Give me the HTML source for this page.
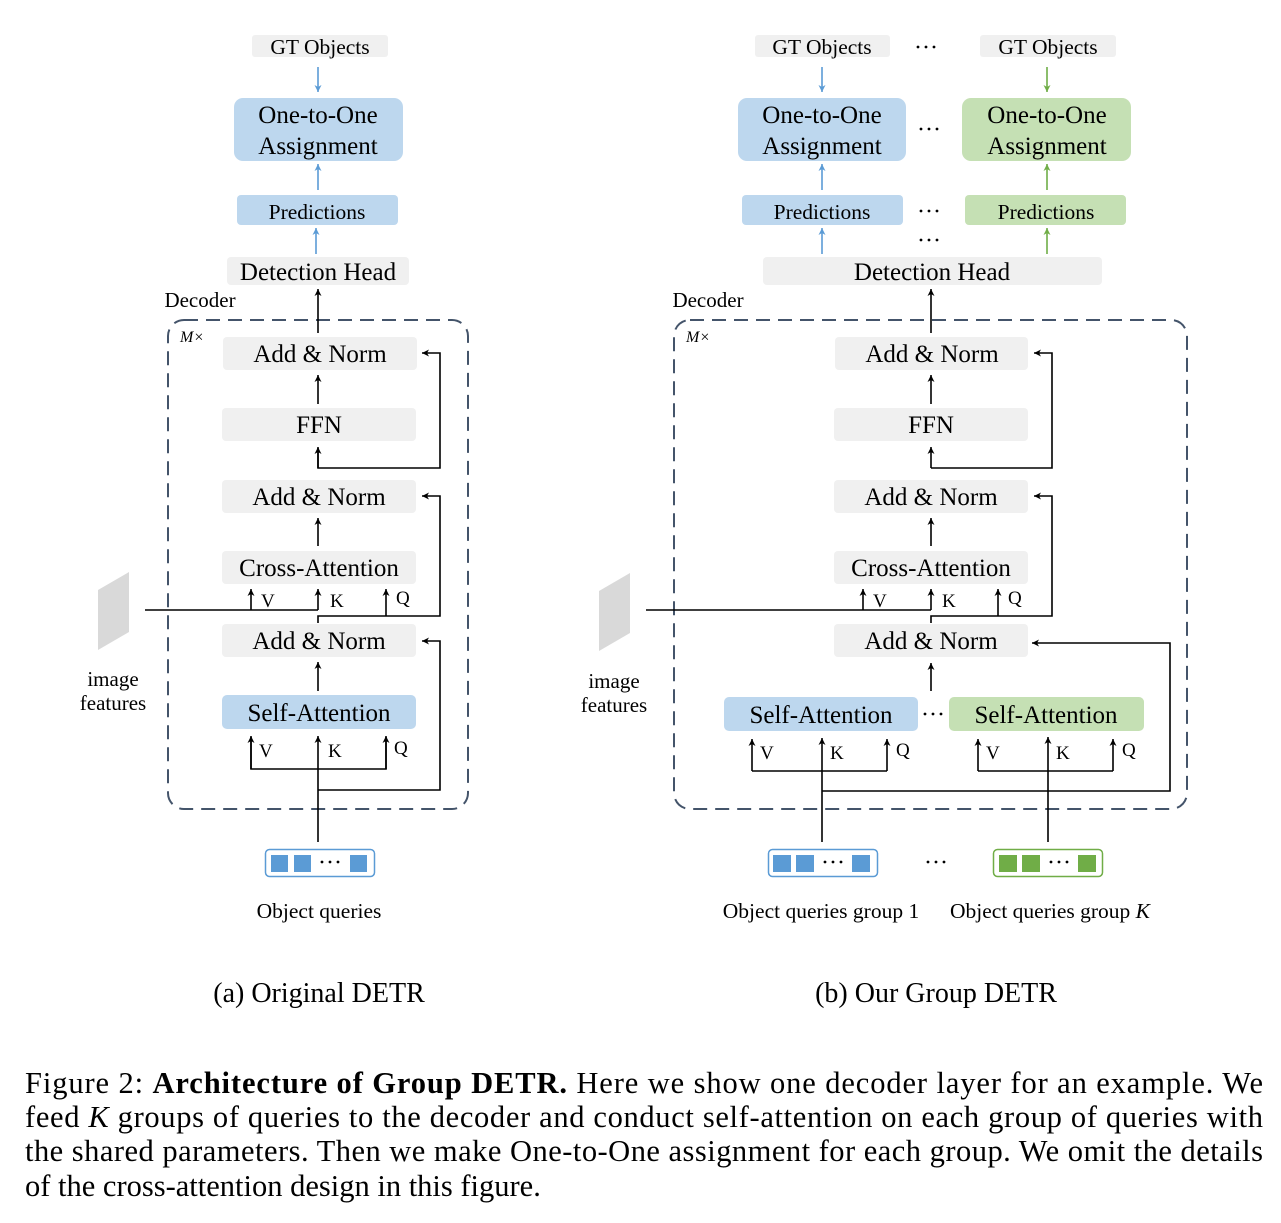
<!DOCTYPE html>
<html><head><meta charset="utf-8"><style>
html,body{margin:0;padding:0;background:#fff;}
svg{display:block;font-family:"Liberation Serif",serif;}
</style></head><body>
<svg width="1281" height="1223" viewBox="0 0 1281 1223" xmlns="http://www.w3.org/2000/svg">
<defs>
<marker id="ak" markerWidth="8" markerHeight="8" refX="7" refY="4" orient="auto" markerUnits="userSpaceOnUse"><path d="M0,0.5 L7,4 L0,7.5 L2,4 Z" fill="#000"/></marker>
<marker id="ab" markerWidth="8" markerHeight="8" refX="7" refY="4" orient="auto" markerUnits="userSpaceOnUse"><path d="M0,0.5 L7,4 L0,7.5 L2,4 Z" fill="#5b9bd5"/></marker>
<marker id="ag" markerWidth="8" markerHeight="8" refX="7" refY="4" orient="auto" markerUnits="userSpaceOnUse"><path d="M0,0.5 L7,4 L0,7.5 L2,4 Z" fill="#70ad47"/></marker>
<g id="dots"><circle cx="-8" cy="0" r="1.4"/><circle cx="0" cy="0" r="1.4"/><circle cx="8" cy="0" r="1.4"/></g>
</defs>
<rect width="1281" height="1223" fill="#fff"/>

<!-- ========== LEFT ========== -->
<g text-anchor="middle" fill="#000">
<rect x="252" y="35" width="136" height="22" rx="3" fill="#f0f0f0"/>
<text x="320" y="54" font-size="21.5">GT Objects</text>
<line x1="318" y1="67" x2="318" y2="92" stroke="#5b9bd5" stroke-width="1.6" marker-end="url(#ab)"/>
<rect x="234" y="98" width="169" height="63" rx="9" fill="#bdd7ee"/>
<text x="318" y="123" font-size="25">One-to-One</text>
<text x="318" y="154" font-size="25">Assignment</text>
<line x1="318" y1="190" x2="318" y2="164" stroke="#5b9bd5" stroke-width="1.6" marker-end="url(#ab)"/>
<rect x="237" y="195" width="161" height="30" rx="4" fill="#bdd7ee"/>
<text x="317" y="219" font-size="21.5">Predictions</text>
<line x1="316" y1="254" x2="316" y2="228" stroke="#5b9bd5" stroke-width="1.6" marker-end="url(#ab)"/>
<rect x="227" y="257" width="182" height="28" rx="4" fill="#f0f0f0"/>
<text x="318" y="280" font-size="25">Detection Head</text>
<text x="200" y="307" font-size="21">Decoder</text>
</g>
<rect x="168" y="320" width="300" height="489" rx="16" fill="none" stroke="#44546a" stroke-width="2" stroke-dasharray="14,8"/>
<text x="180" y="342" font-size="16" font-style="italic">M×</text>
<g stroke="#000" stroke-width="1.6" fill="none">
<line x1="318" y1="333" x2="318" y2="289" marker-end="url(#ak)"/>
<line x1="318" y1="404" x2="318" y2="375" marker-end="url(#ak)"/>
<polyline points="318,448 318,468 440,468 440,353 422,353" marker-end="url(#ak)"/>
<line x1="318" y1="468" x2="318" y2="447" marker-end="url(#ak)"/>
<line x1="318" y1="546" x2="318" y2="518" marker-end="url(#ak)"/>
<line x1="145" y1="610" x2="318" y2="610"/>
<line x1="251" y1="610" x2="251" y2="589" marker-end="url(#ak)"/>
<line x1="318" y1="610" x2="318" y2="589" marker-end="url(#ak)"/>
<polyline points="318,623 318,616 440,616 440,496 422,496" marker-end="url(#ak)"/>
<line x1="386" y1="616" x2="386" y2="589" marker-end="url(#ak)"/>
<line x1="318" y1="691" x2="318" y2="662" marker-end="url(#ak)"/>
<polyline points="251,737 251,769 386,769 386,737"/>
<line x1="251" y1="769" x2="251" y2="736" marker-end="url(#ak)"/>
<line x1="386" y1="769" x2="386" y2="736" marker-end="url(#ak)"/>
<line x1="318" y1="842" x2="318" y2="736" marker-end="url(#ak)"/>
<polyline points="318,790 440,790 440,641 422,641" marker-end="url(#ak)"/>
</g>
<g text-anchor="middle" fill="#000">
<rect x="223" y="337" width="194" height="33" rx="4" fill="#f0f0f0"/>
<text x="320" y="362" font-size="25">Add &amp; Norm</text>
<rect x="222" y="408" width="194" height="33" rx="4" fill="#f0f0f0"/>
<text x="319" y="433" font-size="25">FFN</text>
<rect x="222" y="480" width="194" height="33" rx="4" fill="#f0f0f0"/>
<text x="319" y="505" font-size="25">Add &amp; Norm</text>
<rect x="222" y="551" width="194" height="33" rx="4" fill="#f0f0f0"/>
<text x="319" y="576" font-size="25">Cross-Attention</text>
<rect x="222" y="624" width="194" height="33" rx="4" fill="#f0f0f0"/>
<text x="319" y="649" font-size="25">Add &amp; Norm</text>
<rect x="222" y="695" width="194" height="34" rx="5" fill="#bdd7ee"/>
<text x="319" y="721" font-size="25">Self-Attention</text>
</g>
<g font-size="19" fill="#000">
<text x="261" y="607">V</text><text x="330" y="607">K</text><text x="396" y="604">Q</text>
<text x="259" y="757">V</text><text x="328" y="757">K</text><text x="394" y="754">Q</text>
</g>
<polygon points="98,590 129,572 129,632 98,650" fill="#d9d9d9"/>
<text x="113" y="686" font-size="21" text-anchor="middle">image</text>
<text x="113" y="710" font-size="21" text-anchor="middle">features</text>
<rect x="265.5" y="849.5" width="109" height="27" rx="4" fill="#fff" stroke="#5b9bd5" stroke-width="1.5"/>
<rect x="271" y="855" width="17" height="17" fill="#5b9bd5"/><rect x="294" y="855" width="17" height="17" fill="#5b9bd5"/><rect x="350" y="855" width="17" height="17" fill="#5b9bd5"/>
<use href="#dots" x="330" y="862"/>
<text x="319" y="918" font-size="21.5" text-anchor="middle">Object queries</text>
<text x="319" y="1002" font-size="28" text-anchor="middle">(a) Original DETR</text>

<!-- ========== RIGHT ========== -->
<g text-anchor="middle" fill="#000">
<rect x="755" y="35" width="135" height="22" rx="3" fill="#f0f0f0"/>
<text x="822" y="54" font-size="21.5">GT Objects</text>
<rect x="980" y="35" width="136" height="22" rx="3" fill="#f0f0f0"/>
<text x="1048" y="54" font-size="21.5">GT Objects</text>
<rect x="738" y="98" width="168" height="63" rx="9" fill="#bdd7ee"/>
<text x="822" y="123" font-size="25">One-to-One</text>
<text x="822" y="154" font-size="25">Assignment</text>
<rect x="962" y="98" width="169" height="63" rx="9" fill="#c5e0b4"/>
<text x="1047" y="123" font-size="25">One-to-One</text>
<text x="1047" y="154" font-size="25">Assignment</text>
<rect x="742" y="195" width="161" height="30" rx="4" fill="#bdd7ee"/>
<text x="822" y="219" font-size="21.5">Predictions</text>
<rect x="965" y="195" width="161" height="30" rx="4" fill="#c5e0b4"/>
<text x="1046" y="219" font-size="21.5">Predictions</text>
<rect x="763" y="257" width="339" height="28" rx="4" fill="#f0f0f0"/>
<text x="932" y="280" font-size="25">Detection Head</text>
<text x="708" y="307" font-size="21">Decoder</text>
</g>
<g fill="#000">
<use href="#dots" x="926" y="47"/>
<use href="#dots" x="929" y="129"/>
<use href="#dots" x="929" y="211"/>
<use href="#dots" x="929" y="240"/>
<use href="#dots" x="933" y="714"/>
<use href="#dots" x="936" y="862"/>
</g>
<line x1="822" y1="67" x2="822" y2="92" stroke="#5b9bd5" stroke-width="1.6" marker-end="url(#ab)"/>
<line x1="822" y1="190" x2="822" y2="164" stroke="#5b9bd5" stroke-width="1.6" marker-end="url(#ab)"/>
<line x1="822" y1="254" x2="822" y2="228" stroke="#5b9bd5" stroke-width="1.6" marker-end="url(#ab)"/>
<line x1="1047" y1="67" x2="1047" y2="92" stroke="#70ad47" stroke-width="1.6" marker-end="url(#ag)"/>
<line x1="1047" y1="190" x2="1047" y2="164" stroke="#70ad47" stroke-width="1.6" marker-end="url(#ag)"/>
<line x1="1047" y1="254" x2="1047" y2="228" stroke="#70ad47" stroke-width="1.6" marker-end="url(#ag)"/>
<rect x="674" y="320" width="513" height="489" rx="16" fill="none" stroke="#44546a" stroke-width="2" stroke-dasharray="14,8"/>
<text x="686" y="342" font-size="16" font-style="italic">M×</text>
<g stroke="#000" stroke-width="1.6" fill="none">
<line x1="931" y1="333" x2="931" y2="289" marker-end="url(#ak)"/>
<line x1="931" y1="404" x2="931" y2="375" marker-end="url(#ak)"/>
<polyline points="931,468 1052,468 1052,353 1034,353" marker-end="url(#ak)"/>
<line x1="931" y1="468" x2="931" y2="447" marker-end="url(#ak)"/>
<line x1="931" y1="546" x2="931" y2="518" marker-end="url(#ak)"/>
<line x1="646" y1="610" x2="931" y2="610"/>
<line x1="863" y1="610" x2="863" y2="589" marker-end="url(#ak)"/>
<line x1="931" y1="610" x2="931" y2="589" marker-end="url(#ak)"/>
<polyline points="931,623 931,616 1052,616 1052,496 1034,496" marker-end="url(#ak)"/>
<line x1="998" y1="616" x2="998" y2="589" marker-end="url(#ak)"/>
<line x1="931" y1="691" x2="931" y2="663" marker-end="url(#ak)"/>
<polyline points="752,771 887,771"/>
<line x1="752" y1="771" x2="752" y2="739" marker-end="url(#ak)"/>
<line x1="887" y1="771" x2="887" y2="739" marker-end="url(#ak)"/>
<line x1="822" y1="842" x2="822" y2="738" marker-end="url(#ak)"/>
<polyline points="978,771 1113,771"/>
<line x1="978" y1="771" x2="978" y2="739" marker-end="url(#ak)"/>
<line x1="1113" y1="771" x2="1113" y2="739" marker-end="url(#ak)"/>
<line x1="1048" y1="842" x2="1048" y2="737" marker-end="url(#ak)"/>
<polyline points="822,791 1170,791 1170,643 1032,643" marker-end="url(#ak)"/>
</g>
<g text-anchor="middle" fill="#000">
<rect x="835" y="337" width="193" height="33" rx="4" fill="#f0f0f0"/>
<text x="932" y="362" font-size="25">Add &amp; Norm</text>
<rect x="834" y="408" width="194" height="33" rx="4" fill="#f0f0f0"/>
<text x="931" y="433" font-size="25">FFN</text>
<rect x="834" y="480" width="194" height="33" rx="4" fill="#f0f0f0"/>
<text x="931" y="505" font-size="25">Add &amp; Norm</text>
<rect x="834" y="551" width="194" height="33" rx="4" fill="#f0f0f0"/>
<text x="931" y="576" font-size="25">Cross-Attention</text>
<rect x="834" y="624" width="194" height="33" rx="4" fill="#f0f0f0"/>
<text x="931" y="649" font-size="25">Add &amp; Norm</text>
<rect x="724" y="697" width="194" height="34" rx="5" fill="#bdd7ee"/>
<text x="821" y="723" font-size="25">Self-Attention</text>
<rect x="949" y="697" width="195" height="34" rx="5" fill="#c5e0b4"/>
<text x="1046" y="723" font-size="25">Self-Attention</text>
</g>
<g font-size="19" fill="#000">
<text x="873" y="607">V</text><text x="942" y="607">K</text><text x="1008" y="604">Q</text>
<text x="760" y="759">V</text><text x="830" y="759">K</text><text x="896" y="756">Q</text>
<text x="986" y="759">V</text><text x="1056" y="759">K</text><text x="1122" y="756">Q</text>
</g>
<polygon points="599,591 630,573 630,633 599,651" fill="#d9d9d9"/>
<text x="614" y="688" font-size="21" text-anchor="middle">image</text>
<text x="614" y="712" font-size="21" text-anchor="middle">features</text>
<rect x="768.5" y="849.5" width="109" height="27" rx="4" fill="#fff" stroke="#5b9bd5" stroke-width="1.5"/>
<rect x="773" y="855" width="18" height="17" fill="#5b9bd5"/><rect x="796" y="855" width="18" height="17" fill="#5b9bd5"/><rect x="852" y="855" width="18" height="17" fill="#5b9bd5"/>
<use href="#dots" x="833" y="862"/>
<rect x="993.5" y="849.5" width="109" height="27" rx="4" fill="#fff" stroke="#70ad47" stroke-width="1.5"/>
<rect x="999" y="855" width="18" height="17" fill="#70ad47"/><rect x="1022" y="855" width="18" height="17" fill="#70ad47"/><rect x="1078" y="855" width="18" height="17" fill="#70ad47"/>
<use href="#dots" x="1059" y="862"/>
<text x="821" y="918" font-size="21.5" text-anchor="middle">Object queries group 1</text>
<text x="1050" y="918" font-size="21.5" text-anchor="middle">Object queries group <tspan font-style="italic">K</tspan></text>
<text x="936" y="1002" font-size="28" text-anchor="middle">(b) Our Group DETR</text>

<!-- Caption -->
<g font-size="30.5" fill="#000">
<text x="25" y="1093" textLength="1238" lengthAdjust="spacing">Figure 2:  <tspan font-weight="bold">Architecture of Group DETR.</tspan> Here we show one decoder layer for an example.  We</text>
<text x="25" y="1127" textLength="1238" lengthAdjust="spacing">feed <tspan font-style="italic">K</tspan> groups of queries to the decoder and conduct self-attention on each group of queries with</text>
<text x="25" y="1161" textLength="1238" lengthAdjust="spacing">the shared parameters. Then we make One-to-One assignment for each group. We omit the details</text>
<text x="25" y="1196">of the cross-attention design in this figure.</text>
</g>
</svg>
</body></html>
